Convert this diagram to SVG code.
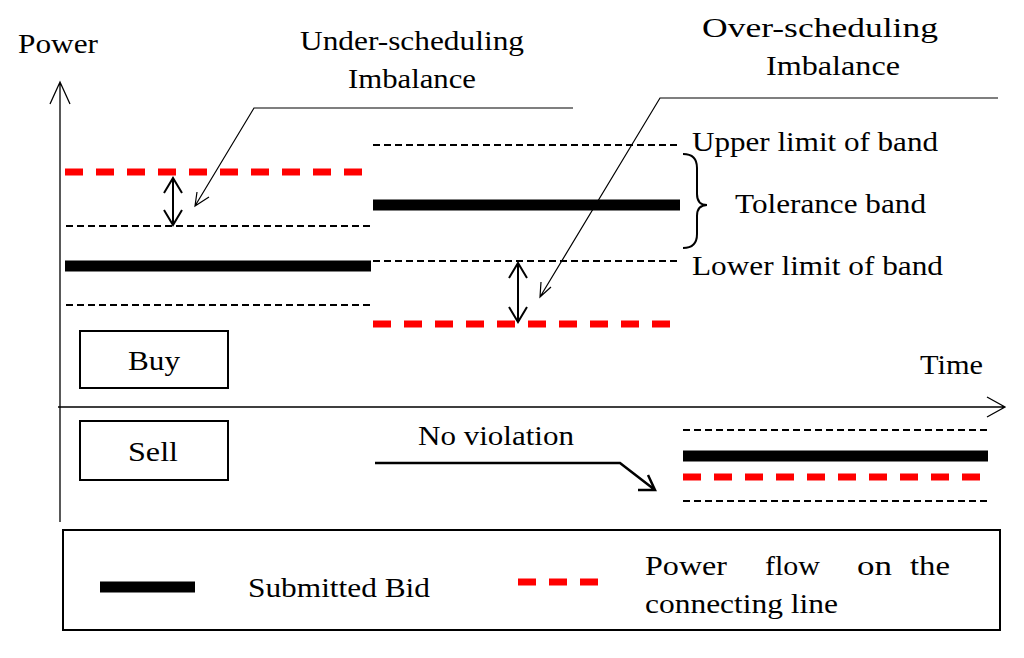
<svg xmlns="http://www.w3.org/2000/svg" width="1024" height="658" viewBox="0 0 1024 658">
<style>
text{font-family:"Liberation Serif",serif;font-size:27px;fill:#000}
.ax{stroke:#000;stroke-width:1.3;fill:none}
.lim{stroke:#000;stroke-width:2;stroke-dasharray:7 4}
.bid{stroke:#000;stroke-width:11}
.flow{stroke:#f00;stroke-width:7;stroke-dasharray:18 13}
.box{fill:#fff;stroke:#000;stroke-width:2}
.thin{stroke:#000;stroke-width:1.2;fill:none}
.dbl{stroke:#000;stroke-width:2;fill:none}
</style>
<rect width="1024" height="658" fill="#fff"/>
<g id="axes">
<path class="ax" d="M60 522V82M50 104L60 82L70 104"/>
<path class="ax" d="M58 407H1005M987 397L1005 407L987 417"/>
<text x="18" y="53" textLength="80" lengthAdjust="spacingAndGlyphs">Power</text>
<text x="920" y="374" textLength="63" lengthAdjust="spacingAndGlyphs">Time</text>
</g>
<g id="lines">
<line class="flow" x1="65" y1="172" x2="372" y2="172"/>
<line class="lim" x1="66" y1="226" x2="372" y2="226"/>
<line class="bid" x1="65" y1="266" x2="371" y2="266"/>
<line class="lim" x1="66" y1="305" x2="372" y2="305"/>
<line class="lim" x1="373" y1="145" x2="680" y2="145"/>
<line class="bid" x1="373" y1="205" x2="680" y2="205"/>
<line class="lim" x1="373" y1="261" x2="680" y2="261"/>
<line class="flow" x1="373" y1="324" x2="680" y2="324"/>
<line class="lim" x1="683" y1="430" x2="988" y2="430"/>
<line class="bid" x1="683" y1="456" x2="988" y2="456"/>
<line class="flow" x1="683" y1="477" x2="988" y2="477"/>
<line class="lim" x1="683" y1="501" x2="988" y2="501"/>
</g>
<g id="connectors">
<path class="dbl" d="M173 178V225M164 193L173 178L182 193M164 210L173 225L182 210"/>
<path class="dbl" d="M518 263V322M509 278L518 263L527 278M509 307L518 322L527 307"/>
<path class="thin" d="M573 108H254L195 206M197 192L195 206L209 197"/>
<path class="thin" d="M998 98H660L540 297M541 282L540 297L551 287"/>
<path d="M375 463H620L655 490M638 490L655 490L648 475" stroke="#000" stroke-width="2.5" fill="none"/>
<path class="dbl" d="M683 154Q697 154 697 168V194Q697 205 707 205Q697 205 697 216V234Q697 248 683 248"/>
</g>
<g id="labels">
<text x="300" y="50" textLength="224" lengthAdjust="spacingAndGlyphs">Under-scheduling</text>
<text x="348" y="88" textLength="128" lengthAdjust="spacingAndGlyphs">Imbalance</text>
<text x="702" y="37" textLength="236" lengthAdjust="spacingAndGlyphs">Over-scheduling</text>
<text x="766" y="75" textLength="134" lengthAdjust="spacingAndGlyphs">Imbalance</text>
<text x="692" y="151" textLength="246" lengthAdjust="spacingAndGlyphs">Upper limit of band</text>
<text x="735" y="213" textLength="191" lengthAdjust="spacingAndGlyphs">Tolerance band</text>
<text x="692" y="275" textLength="251" lengthAdjust="spacingAndGlyphs">Lower limit of band</text>
<text x="418" y="445" textLength="156" lengthAdjust="spacingAndGlyphs">No violation</text>
</g>
<g id="buy"><rect class="box" x="80" y="331" width="148" height="57"/><text x="128" y="370" textLength="52" lengthAdjust="spacingAndGlyphs">Buy</text></g>
<g id="sell"><rect class="box" x="80" y="421" width="148" height="59"/><text x="128" y="461" textLength="50" lengthAdjust="spacingAndGlyphs">Sell</text></g>
<g id="legend">
<rect class="box" x="63" y="530" width="937" height="100" stroke-width="1.5"/>
<line class="bid" x1="100" y1="587" x2="195" y2="587"/>
<text x="248" y="597" textLength="182" lengthAdjust="spacingAndGlyphs">Submitted Bid</text>
<line class="flow" x1="518" y1="582" x2="610" y2="582"/>
<text x="645" y="575" textLength="82" lengthAdjust="spacingAndGlyphs">Power</text><text x="765" y="575" textLength="55" lengthAdjust="spacingAndGlyphs">flow</text><text x="857" y="575" textLength="35" lengthAdjust="spacingAndGlyphs">on</text><text x="910" y="575" textLength="40" lengthAdjust="spacingAndGlyphs">the</text>
<text x="645" y="613" textLength="193" lengthAdjust="spacingAndGlyphs">connecting line</text>
</g>
</svg>
